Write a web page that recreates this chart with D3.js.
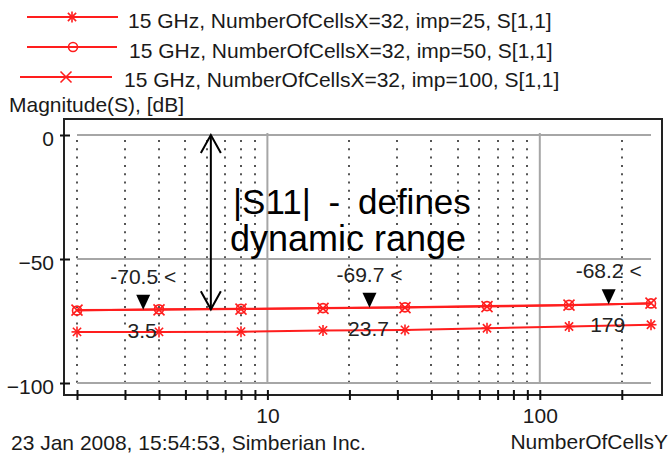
<!DOCTYPE html>
<html>
<head>
<meta charset="utf-8">
<script src="https://cdn.jsdelivr.net/npm/d3@7"></script>
<style>
  html, body { margin: 0; padding: 0; background: #fff; }
  svg { display: block; }
  text { font-family: "Liberation Sans", Arial, sans-serif; }
</style>
</head>
<body>
<svg id="chart" width="669" height="455"></svg>
<script>
// ---- data ----
const xValues = [2, 4, 8, 16, 32, 64, 128, 256];
const seriesImp25  = [-79.4, -79.4, -79.3, -78.8, -78.6, -77.9, -77.2, -76.5];
const seriesImp50  = [-70.8, -70.3, -70.1, -69.8, -69.5, -69.0, -68.5, -67.9];
const seriesImp100 = [-70.6, -70.5, -70.2, -69.9, -69.6, -69.2, -68.6, -67.8];
const seriesNames = [
  "15 GHz, NumberOfCellsX=32, imp=25, S[1,1]",
  "15 GHz, NumberOfCellsX=32, imp=50, S[1,1]",
  "15 GHz, NumberOfCellsX=32, imp=100, S[1,1]"
];
const markerX = [3.5, 23.7, 179];
const markerY = [-70.5, -69.7, -68.2];
const yTicks = [0, -50, -100];
const xMajorTicks = [10, 100];
const xMinorTicks = [2, 3, 4, 5, 6, 7, 8, 9, 20, 30, 40, 50, 60, 70, 80, 90, 200];
const yAxisTitle = "Magnitude(S), [dB]";
const xAxisTitle = "NumberOfCellsY";
const footerText = "23 Jan 2008, 15:54:53, Simberian Inc.";
const annotationLines = ["|S11| - defines", "dynamic range"];
const annotationArrow = { x: 6.2, from: 0, to: -70.3 };

// ---- layout ----
const svg = d3.select("#chart");
const red = "#ff1e1e";
const x = d3.scaleLog().domain([2, 256]).range([77, 651]);
const y = d3.scaleLinear().domain([-100, 0]).range([383, 135]);

// frame
svg.append("rect").attr("x", 64).attr("y", 119).attr("width", 598).attr("height", 276)
  .attr("fill", "#fff").attr("stroke", "#222").attr("stroke-width", 2);

// minor dotted verticals
svg.append("g").selectAll("line").data(xMinorTicks).join("line")
  .attr("x1", d => Math.round(x(d))).attr("x2", d => Math.round(x(d)))
  .attr("y1", y(0) + 5).attr("y2", y(-100))
  .attr("stroke", "#555").attr("stroke-width", 2).attr("stroke-dasharray", "2,6.3");

// major verticals
svg.append("g").selectAll("line").data(xMajorTicks).join("line")
  .attr("x1", d => x(d)).attr("x2", d => x(d))
  .attr("y1", y(0) - 2).attr("y2", y(-100))
  .attr("stroke", "#a6a6a6").attr("stroke-width", 2);

// horizontal grid
svg.append("g").selectAll("line").data(yTicks).join("line")
  .attr("x1", x(2)).attr("x2", x(256))
  .attr("y1", d => y(d)).attr("y2", d => y(d))
  .attr("stroke", "#a6a6a6").attr("stroke-width", 2);

// axes
const xAxis = d3.axisBottom(x)
  .tickValues(xMinorTicks.concat(xMajorTicks).sort((a, b) => a - b))
  .tickSize(10).tickPadding(8)
  .tickFormat(d => xMajorTicks.includes(d) ? String(d) : "");
const gx = svg.append("g").attr("transform", "translate(0,390)").call(xAxis);
gx.select(".domain").remove();
gx.selectAll(".tick line").attr("stroke", "#111").attr("stroke-width", 2);
gx.selectAll(".tick text").attr("font-size", 21).attr("font-family", "Liberation Sans, Arial, sans-serif").attr("fill", "#1a1a1a");

const yAxis = d3.axisLeft(y).tickValues(yTicks).tickSize(10).tickPadding(6);
const gy = svg.append("g").attr("transform", "translate(70,0)").call(yAxis);
gy.select(".domain").remove();
gy.selectAll(".tick line").attr("stroke", "#111").attr("stroke-width", 2);
gy.selectAll(".tick text").attr("font-size", 21).attr("dy", "0.48em")
  .attr("font-family", "Liberation Sans, Arial, sans-serif").attr("fill", "#1a1a1a");

// series
const line = d3.line().x(d => x(d[0])).y(d => y(d[1]));
const seriesList = [seriesImp25, seriesImp50, seriesImp100];
const symbols = ["asterisk", "circle", "cross"];

function drawSymbol(g, type, cx, cy) {
  const s = 5.5;
  const sg = g.append("g").attr("transform", `translate(${cx},${cy})`)
    .attr("stroke", red).attr("stroke-width", 1.6).attr("fill", "none");
  if (type === "asterisk") {
    sg.append("line").attr("x1", -s).attr("x2", s).attr("y1", 0).attr("y2", 0);
    sg.append("line").attr("x1", 0).attr("x2", 0).attr("y1", -s).attr("y2", s);
    sg.append("line").attr("x1", -s * 0.75).attr("x2", s * 0.75).attr("y1", -s * 0.75).attr("y2", s * 0.75);
    sg.append("line").attr("x1", -s * 0.75).attr("x2", s * 0.75).attr("y1", s * 0.75).attr("y2", -s * 0.75);
  } else if (type === "circle") {
    sg.append("circle").attr("r", 4.5);
  } else {
    sg.append("line").attr("x1", -s).attr("x2", s).attr("y1", -s).attr("y2", s);
    sg.append("line").attr("x1", -s).attr("x2", s).attr("y1", s).attr("y2", -s);
  }
}

seriesList.forEach((vals, i) => {
  const pts = xValues.map((xv, j) => [xv, vals[j]]);
  svg.append("path").datum(pts).attr("d", line)
    .attr("fill", "none").attr("stroke", red).attr("stroke-width", 2);
  const g = svg.append("g");
  pts.forEach(p => drawSymbol(g, symbols[i], x(p[0]), y(p[1])));
});

// markers
markerX.forEach((mx, i) => {
  const px = x(mx), py = y(markerY[i]);
  svg.append("path")
    .attr("d", `M${px},${py} L${px - 7},${py - 15} L${px + 7},${py - 15} Z`)
    .attr("fill", "#000");
  svg.append("text").attr("x", px).attr("y", py - 26).attr("text-anchor", "middle")
    .attr("font-size", 21).attr("fill", "#222").text(`${markerY[i]} <`);
  svg.append("text").attr("x", px - 1).attr("y", py + 28).attr("text-anchor", "middle")
    .attr("font-size", 21).attr("fill", "#222").text(String(mx));
});

// annotation arrow
const ax = x(annotationArrow.x), ay1 = y(annotationArrow.from), ay2 = y(annotationArrow.to);
const arrow = svg.append("g").attr("stroke", "#000").attr("stroke-width", 2).attr("fill", "none");
arrow.append("line").attr("x1", ax).attr("x2", ax).attr("y1", ay1).attr("y2", ay2);
arrow.append("path").attr("d", `M${ax - 10},${ay1 + 18} L${ax},${ay1} L${ax + 10},${ay1 + 18}`);
arrow.append("path").attr("d", `M${ax - 10},${ay2 - 18} L${ax},${ay2} L${ax + 10},${ay2 - 18}`);

svg.append("text").attr("x", 233).attr("y", 214).attr("font-family", "Open Sans, Noto Sans, sans-serif")
  .attr("font-size", 35).attr("fill", "#000").attr("word-spacing", 8).text(annotationLines[0]);
svg.append("text").attr("x", 230).attr("y", 251).attr("font-family", "Open Sans, Noto Sans, sans-serif")
  .attr("font-size", 36).attr("fill", "#000").text(annotationLines[1]);

// legend
const legendRows = [
  { x1: 27, x2: 118, sx: 72, ly: 17, tx: 128, ty: 28 },
  { x1: 27, x2: 117, sx: 73, ly: 47, tx: 129, ty: 58 },
  { x1: 20, x2: 112, sx: 66, ly: 77, tx: 124, ty: 87 }
];
seriesNames.forEach((name, i) => {
  const r = legendRows[i];
  svg.append("line").attr("x1", r.x1).attr("x2", r.x2).attr("y1", r.ly).attr("y2", r.ly)
    .attr("stroke", red).attr("stroke-width", 2);
  drawSymbol(svg, symbols[i], r.sx, r.ly);
  svg.append("text").attr("x", r.tx).attr("y", r.ty).attr("font-size", 21).attr("fill", "#1a1a1a").text(name);
});

// titles
svg.append("text").attr("x", 9).attr("y", 112).attr("font-size", 21).attr("fill", "#1a1a1a").text(yAxisTitle);
svg.append("text").attr("x", 11).attr("y", 450).attr("font-size", 21).attr("fill", "#1a1a1a").text(footerText);
svg.append("text").attr("x", 668).attr("y", 449).attr("text-anchor", "end").attr("font-size", 21).attr("fill", "#1a1a1a").text(xAxisTitle);
</script>
</body>
</html>
